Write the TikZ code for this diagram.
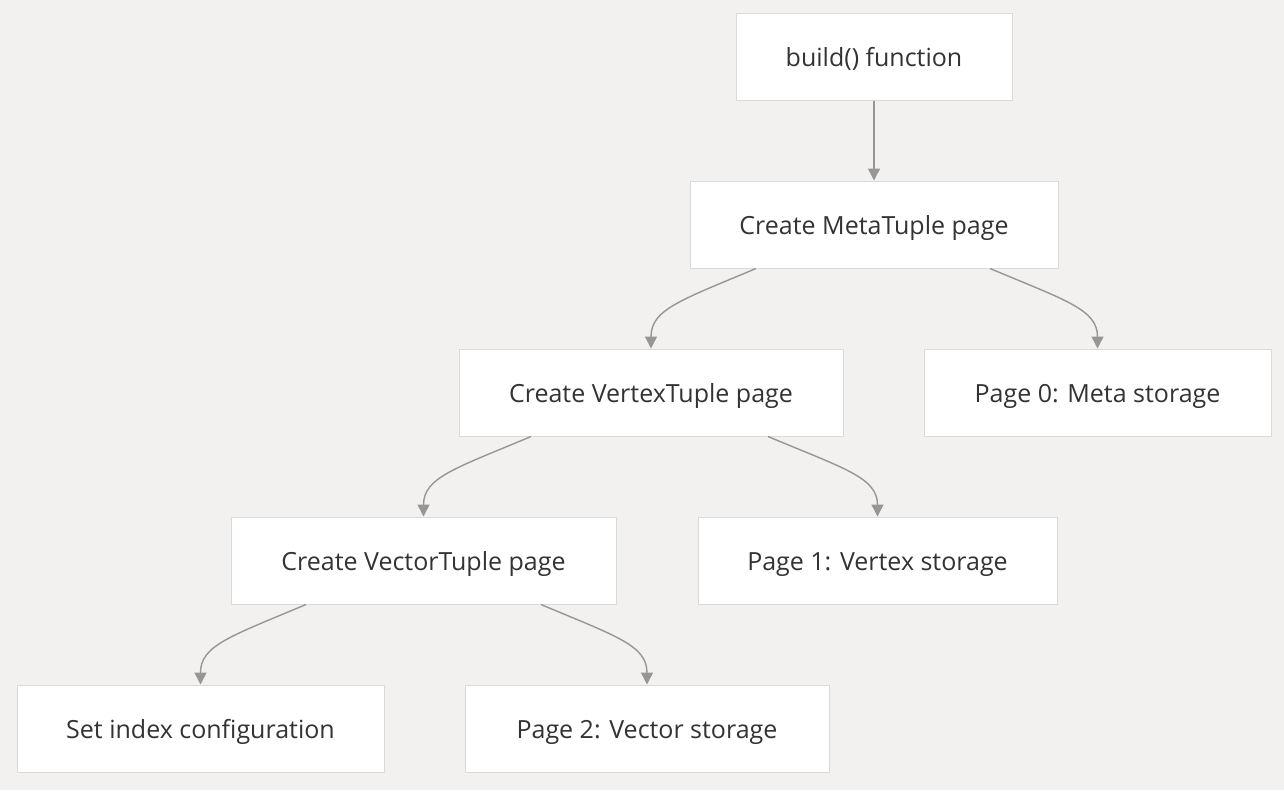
\documentclass[tikz,border=0pt]{standalone}
\usepackage{fontspec}
\setmainfont{Open Sans}
\usetikzlibrary{arrows.meta}
\definecolor{bgc}{RGB}{242,241,239}
\definecolor{boxborder}{RGB}{218,218,218}
\definecolor{edgecol}{RGB}{150,150,150}
\definecolor{txtcol}{RGB}{51,51,51}
\tikzset{
  box/.style={draw=boxborder, fill=white, line width=1pt, minimum height=87pt,
    inner sep=0pt, text=txtcol, text height=20pt, text depth=0pt,
    font=\fontsize{25}{30}\selectfont},
  edge/.style={draw=edgecol, line width=1.4pt, -{Triangle[length=12pt,width=12pt]}}
}
\begin{document}
\begin{tikzpicture}[x=1pt,y=-1pt]
\fill[bgc] (0,0) rectangle (1284,790);
\useasboundingbox (0,0) rectangle (1284,790);
\node[box, minimum width=276pt] (build) at (874,56.5) {build() function};
\node[box, minimum width=368pt] (meta) at (874,224.5) {Create MetaTuple page};
\node[box, minimum width=384pt] (vertex) at (651,392.5) {Create VertexTuple page};
\node[box, minimum width=347pt] (page0) at (1097.5,392.5) {Page 0: Meta storage};
\node[box, minimum width=385pt] (vector) at (423.5,560.5) {Create VectorTuple page};
\node[box, minimum width=359pt] (page1) at (877.5,560.5) {Page 1: Vertex storage};
\node[box, minimum width=367pt] (setidx) at (200.5,728.5) {Set index configuration};
\node[box, minimum width=364pt] (page2) at (647,728.5) {Page 2: Vector storage};

\draw[edge] (build.south) -- (meta.north);
\draw[edge] ([xshift=-118pt]meta.south) .. controls +(-76,32) and +(0,-39) .. (vertex.north);
\draw[edge] ([xshift=116pt]meta.south) .. controls +(76,32) and +(0,-39) .. (page0.north);
\draw[edge] ([xshift=-120pt]vertex.south) .. controls +(-76,32) and +(0,-39) .. (vector.north);
\draw[edge] ([xshift=117pt]vertex.south) .. controls +(76,32) and +(0,-39) .. (page1.north);
\draw[edge] ([xshift=-117.5pt]vector.south) .. controls +(-76,32) and +(0,-39) .. (setidx.north);
\draw[edge] ([xshift=117.5pt]vector.south) .. controls +(76,32) and +(0,-39) .. (page2.north);
\end{tikzpicture}
\end{document}
